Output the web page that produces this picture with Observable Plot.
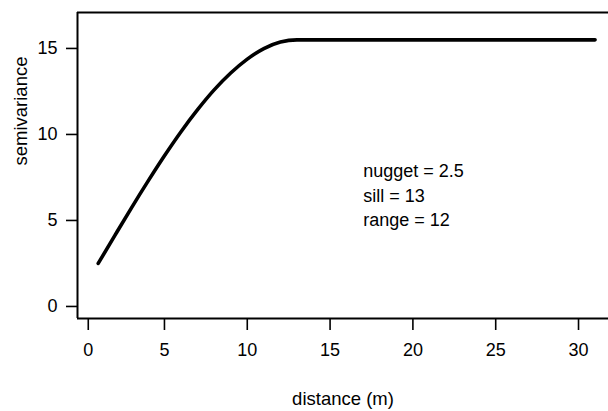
<!DOCTYPE html>
<html>
<head>
<meta charset="utf-8">
<script src="https://cdn.jsdelivr.net/npm/d3@7"></script>
<script src="https://cdn.jsdelivr.net/npm/@observablehq/plot@0.6"></script>
<style>
  body { margin: 0; background: #fff; }
  #chart svg { display: block; }
</style>
</head>
<body>
<div id="chart"></div>
<script>
// Spherical variogram model, sampled along the lag distance
const distance     = [1, 2, 3, 4, 5, 6, 7, 8, 9, 10, 11, 12, 13, 31];
const semivariance = [2.5, 4.12, 5.72, 7.27, 8.76, 10.16, 11.44, 12.59, 13.57, 14.38, 14.99, 15.37, 15.5, 15.5];

// Model parameters shown in the annotation
const nugget = 2.5;
const sill = 13;
const range = 12;

// Axis ticks
const xTickAt     = [0.4, 5, 10, 15, 20, 25, 30];
const xTickLabels = ["0", "5", "10", "15", "20", "25", "30"];
const yTicks      = [0, 5, 10, 15];

const xLabel = "distance (m)";
const yLabel = "semivariance";

const data = distance.map((d, i) => ({distance: d, semivariance: semivariance[i]}));
const xDomain = [-0.25, 31.81];
const yDomain = [-0.70, 17.09];
const font = "'Liberation Sans', Arial, Helvetica, sans-serif";

const chart = Plot.plot({
  width: 608,
  height: 411,
  marginLeft: 77,
  marginRight: 0,
  marginTop: 12,
  marginBottom: 93,
  style: {fontFamily: font, fontSize: "18px", color: "#000", background: "#fff"},
  x: {domain: xDomain},
  y: {domain: yDomain},
  marks: [
    // box on three sides
    Plot.ruleX([xDomain[0]], {y1: yDomain[0], y2: yDomain[1], stroke: "#000", strokeWidth: 2}),
    Plot.ruleY([yDomain[0], yDomain[1]], {x1: xDomain[0], x2: xDomain[1], stroke: "#000", strokeWidth: 2}),
    Plot.axisX({
      ticks: xTickAt,
      tickFormat: (d) => xTickLabels[xTickAt.indexOf(d)],
      tickSize: 12,
      tickPadding: 13,
      strokeWidth: 1.6,
      label: null,
      fontSize: 18
    }),
    Plot.axisY({
      ticks: yTicks,
      tickSize: 11,
      tickPadding: 9,
      strokeWidth: 1.6,
      label: null,
      fontSize: 18
    }),
    Plot.line(data, {
      x: "distance",
      y: "semivariance",
      curve: "monotone-x",
      stroke: "#000",
      strokeWidth: 3.6,
      strokeLinecap: "round"
    }),
    Plot.text([`nugget = ${nugget}\nsill = ${sill}\nrange = ${range}`], {
      x: 17,
      y: 6.55,
      textAnchor: "start",
      lineAnchor: "middle",
      lineHeight: 1.36,
      fontSize: 18
    }),
    Plot.text([xLabel], {frameAnchor: "bottom", dy: 86, fontSize: 18.5}),
    Plot.text([yLabel], {frameAnchor: "left", rotate: -90, dx: -56, fontSize: 18.5})
  ]
});

document.getElementById("chart").appendChild(chart);
</script>
</body>
</html>
